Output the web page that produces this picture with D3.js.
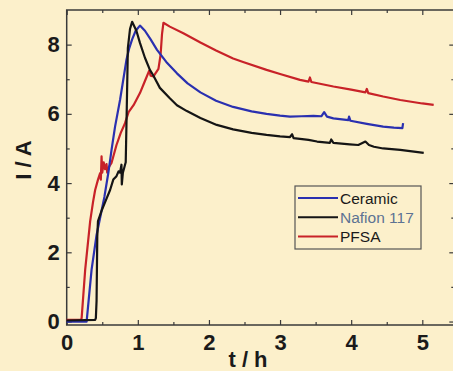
<!DOCTYPE html>
<html>
<head>
<meta charset="utf-8">
<script src="https://cdn.jsdelivr.net/npm/d3@7/dist/d3.min.js"></script>
<style>
  html, body { margin: 0; padding: 0; background: #fcf0cb; }
  svg { display: block; }
  text { font-family: "Liberation Sans", Arial, sans-serif; }
</style>
</head>
<body>
<svg id="chart" width="453" height="371"></svg>
<script>
// ---- data ----
const seriesNames = ["Ceramic", "Nafion 117", "PFSA"];
const seriesColors = ["#2a30b0", "#151515", "#c82228"];

const ceramicT = [0, 0.28, 0.35, 0.42, 0.47, 0.53, 0.585, 0.63, 0.68, 0.75, 0.84, 0.88, 0.92, 0.97, 1.03, 1.10, 1.18, 1.27, 1.40, 1.55, 1.70, 1.88, 2.10, 2.34, 2.60, 2.81, 3.00, 3.14, 3.30, 3.47, 3.58, 3.62, 3.66, 3.75, 3.96, 3.97, 3.99, 4.22, 4.45, 4.60, 4.72, 4.73];
const ceramicV = [0, 0, 1.5, 2.5, 3.0, 3.6, 4.29, 4.95, 5.63, 6.4, 7.56, 7.9, 8.15, 8.4, 8.55, 8.4, 8.15, 7.85, 7.5, 7.17, 6.88, 6.62, 6.38, 6.2, 6.07, 6.0, 5.95, 5.92, 5.93, 5.94, 5.93, 6.05, 5.92, 5.87, 5.82, 5.92, 5.8, 5.71, 5.63, 5.6, 5.59, 5.73];

const nafionT = [0, 0.40, 0.41, 0.42, 0.43, 0.44, 0.49, 0.55, 0.61, 0.655, 0.70, 0.73, 0.75, 0.77, 0.775, 0.79, 0.81, 0.82, 0.83, 0.845, 0.86, 0.89, 0.92, 0.98, 1.03, 1.10, 1.17, 1.22, 1.31, 1.45, 1.55, 1.69, 1.88, 2.11, 2.34, 2.60, 2.81, 3.00, 3.14, 3.17, 3.19, 3.40, 3.52, 3.70, 3.72, 3.75, 3.98, 4.10, 4.20, 4.25, 4.32, 4.45, 4.69, 5.02];
const nafionV = [0.03, 0.05, 0.1, 0.6, 2.46, 2.9, 3.2, 3.5, 3.8, 4.1, 4.2, 4.34, 4.3, 4.53, 3.96, 4.3, 4.45, 4.53, 4.6, 6.2, 7.9, 8.45, 8.66, 8.4, 8.05, 7.62, 7.27, 7.1, 6.75, 6.45, 6.25, 6.08, 5.88, 5.68, 5.55, 5.45, 5.39, 5.35, 5.33, 5.41, 5.3, 5.25, 5.2, 5.16, 5.26, 5.16, 5.12, 5.1, 5.2, 5.1, 5.05, 5.0, 4.96, 4.87];

const pfsaT = [0, 0.20, 0.21, 0.26, 0.33, 0.37, 0.40, 0.44, 0.47, 0.48, 0.49, 0.50, 0.52, 0.54, 0.56, 0.57, 0.59, 0.63, 0.70, 0.76, 0.82, 0.87, 0.94, 1.03, 1.10, 1.16, 1.18, 1.22, 1.29, 1.32, 1.34, 1.36, 1.45, 1.64, 1.88, 2.10, 2.34, 2.48, 2.81, 3.00, 3.28, 3.40, 3.42, 3.44, 3.75, 4.00, 4.20, 4.22, 4.24, 4.45, 4.69, 5.00, 5.16];
const pfsaV = [0.05, 0.05, 0.1, 1.5, 2.9, 3.45, 3.8, 4.1, 4.29, 4.1, 4.77, 4.3, 4.6, 4.4, 4.55, 4.3, 4.45, 4.58, 5.1, 5.45, 5.73, 6.05, 6.25, 6.6, 6.95, 7.25, 7.1, 7.08, 7.3, 7.7, 8.3, 8.63, 8.52, 8.33, 8.06, 7.83, 7.6, 7.5, 7.27, 7.15, 6.98, 6.93, 7.05, 6.92, 6.79, 6.7, 6.62, 6.72, 6.6, 6.5, 6.4, 6.3, 6.26];

const xMajorTicks = [0, 1, 2, 3, 4, 5];
const xMinorTicks = [0.5, 1.5, 2.5, 3.5, 4.5];
const yMajorTicks = [0, 2, 4, 6, 8];
const yMinorTicks = [1, 3, 5, 7];
const xLabel = "t / h";
const yLabel = "I / A";

// ---- layout ----
const svg = d3.select("#chart");
const plotLeft = 66.7, plotTop = 10, plotBottom = 325;
const x = d3.scaleLinear().domain([0, 5.45]).range([plotLeft, plotLeft + 5.45 * 71.12]);
const y = d3.scaleLinear().domain([-0.1, 9.0]).range([plotBottom, plotTop]);
const plotRight = x(5.45);

const axisColor = "#3a3a3a";

svg.append("rect").attr("width", 453).attr("height", 371).attr("fill", "#fcf0cb");

// frame
svg.append("rect")
  .attr("x", plotLeft).attr("y", plotTop)
  .attr("width", plotRight - plotLeft).attr("height", plotBottom - plotTop)
  .attr("fill", "none").attr("stroke", axisColor).attr("stroke-width", 1.5);

function styleAxis(g) {
  g.select(".domain").remove();
  g.selectAll(".tick line").attr("stroke", axisColor).attr("stroke-width", 1.2);
}

// bottom
svg.append("g").attr("transform", `translate(0,${plotBottom})`)
  .call(d3.axisBottom(x).tickValues(xMajorTicks).tickSize(-5).tickPadding(9).tickFormat(d3.format("d")))
  .call(styleAxis)
  .call(g => g.selectAll("text").attr("font-size", 22).attr("font-weight", "bold").attr("fill", "#1a1a1a"));
svg.append("g").attr("transform", `translate(0,${plotBottom})`)
  .call(d3.axisBottom(x).tickValues(xMinorTicks).tickSize(-3).tickFormat(""))
  .call(styleAxis);
// top
svg.append("g").attr("transform", `translate(0,${plotTop})`)
  .call(d3.axisTop(x).tickValues(xMajorTicks).tickSize(-5).tickFormat(""))
  .call(styleAxis);
svg.append("g").attr("transform", `translate(0,${plotTop})`)
  .call(d3.axisTop(x).tickValues(xMinorTicks).tickSize(-3).tickFormat(""))
  .call(styleAxis);
// left
svg.append("g").attr("transform", `translate(${plotLeft},0)`)
  .call(d3.axisLeft(y).tickValues(yMajorTicks).tickSize(-5).tickPadding(7).tickFormat(d3.format("d")))
  .call(styleAxis)
  .call(g => g.selectAll("text").attr("font-size", 22).attr("font-weight", "bold").attr("fill", "#1a1a1a"));
svg.append("g").attr("transform", `translate(${plotLeft},0)`)
  .call(d3.axisLeft(y).tickValues(yMinorTicks).tickSize(-3).tickFormat(""))
  .call(styleAxis);
// right
svg.append("g").attr("transform", `translate(${plotRight},0)`)
  .call(d3.axisRight(y).tickValues(yMajorTicks).tickSize(-5).tickFormat(""))
  .call(styleAxis);
svg.append("g").attr("transform", `translate(${plotRight},0)`)
  .call(d3.axisRight(y).tickValues(yMinorTicks).tickSize(-3).tickFormat(""))
  .call(styleAxis);

// axis titles
svg.append("text").attr("x", 248).attr("y", 367)
  .attr("text-anchor", "middle").attr("font-size", 22).attr("font-weight", "bold")
  .attr("fill", "#1a1a1a").text(xLabel);
svg.append("text").attr("transform", "translate(31,160) rotate(-90)")
  .attr("text-anchor", "middle").attr("font-size", 22).attr("font-weight", "bold")
  .attr("fill", "#1a1a1a").text(yLabel);

// lines
const series = [
  { t: ceramicT, v: ceramicV },
  { t: nafionT, v: nafionV },
  { t: pfsaT, v: pfsaV }
];
const line = d3.line().x(d => x(d[0])).y(d => y(d[1]));
const drawOrder = [2, 0, 1];
drawOrder.forEach(i => {
  const pts = series[i].t.map((t, k) => [t, series[i].v[k]]);
  svg.append("path").datum(pts)
    .attr("d", line)
    .attr("fill", "none")
    .attr("stroke", seriesColors[i])
    .attr("stroke-width", 2.2)
    .attr("stroke-linejoin", "round");
});

// legend
const lg = svg.append("g");
lg.append("rect").attr("x", 295).attr("y", 186).attr("width", 126).attr("height", 63)
  .attr("fill", "none").attr("stroke", "#555").attr("stroke-width", 1.2);
const legendTextColors = ["#1a1a1a", "#5d7393", "#1a1a1a"];
seriesNames.forEach((name, i) => {
  const ly = 198 + i * 19.3;
  lg.append("line").attr("x1", 298).attr("x2", 338).attr("y1", ly).attr("y2", ly)
    .attr("stroke", seriesColors[i]).attr("stroke-width", 2);
  lg.append("text").attr("x", 340).attr("y", ly + 5.5)
    .attr("font-size", 15.5).attr("fill", legendTextColors[i]).text(name);
});
</script>
</body>
</html>
